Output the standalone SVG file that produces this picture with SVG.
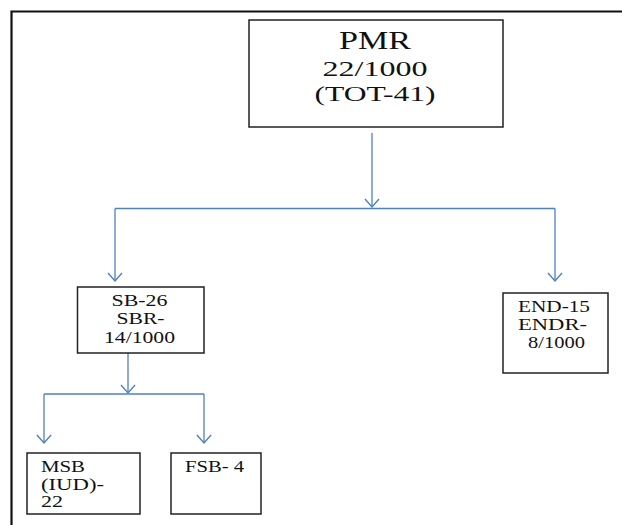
<svg xmlns="http://www.w3.org/2000/svg" width="622" height="525" viewBox="0 0 622 525">
<defs>
<marker id="arr" markerWidth="18" markerHeight="16" refX="15" refY="7" orient="auto" markerUnits="userSpaceOnUse" viewBox="0 0 18 14">
<polyline points="7,0 15,7 7,14" fill="none" stroke="#4f81bd" stroke-width="1.4"/>
</marker>
<style>
.box{fill:#fff;stroke:#222;stroke-width:1.5}
text{font-family:"Liberation Serif","Times New Roman","DejaVu Serif",serif;fill:#111}
.t{text-anchor:middle}
.tl{text-anchor:start}
.c{fill:none;stroke:#4f81bd;stroke-width:1.3}
</style>
</defs>
<rect width="622" height="525" fill="#fff"/>
<path d="M11.5,530 V11.5 H630" fill="none" stroke="#111" stroke-width="2.2"/>
<g id="connectors">
<path class="c" d="M372,133 V207" marker-end="url(#arr)"/>
<path class="c" d="M115,208.5 H555"/>
<path class="c" d="M115,208.5 V281" marker-end="url(#arr)"/>
<path class="c" d="M555,208.5 V281" marker-end="url(#arr)"/>
<path class="c" d="M128,353 V393" marker-end="url(#arr)"/>
<path class="c" d="M44,394 H204"/>
<path class="c" d="M44,394 V443" marker-end="url(#arr)"/>
<path class="c" d="M204,394 V443" marker-end="url(#arr)"/>
</g>
<g id="pmr">
<rect class="box" x="249" y="20" width="254" height="107"/>
<text class="t" x="375" y="49" font-size="26" font-family="Liberation Serif, serif" textLength="72" lengthAdjust="spacingAndGlyphs">PMR</text>
<text class="t" x="375" y="76" font-size="22" font-family="Liberation Serif, serif" textLength="105" lengthAdjust="spacingAndGlyphs">22/1000</text>
<text class="t" x="375" y="101" font-size="22" font-family="Liberation Serif, serif" textLength="121" lengthAdjust="spacingAndGlyphs">(TOT-41)</text>
</g>
<g id="sb">
<rect class="box" x="77.5" y="287" width="126.5" height="66"/>
<text class="t" x="139.5" y="306" font-size="16" font-family="Liberation Serif, serif" textLength="56" lengthAdjust="spacingAndGlyphs">SB-26</text>
<text class="t" x="140.5" y="324" font-size="16" font-family="Liberation Serif, serif" textLength="48" lengthAdjust="spacingAndGlyphs">SBR-</text>
<text class="t" x="139.5" y="343" font-size="16" font-family="Liberation Serif, serif" textLength="71" lengthAdjust="spacingAndGlyphs">14/1000</text>
</g>
<g id="end">
<rect class="box" x="503" y="293" width="105" height="80"/>
<text class="t" x="554" y="312" font-size="16" font-family="Liberation Serif, serif" textLength="72" lengthAdjust="spacingAndGlyphs">END-15</text>
<text class="t" x="552.5" y="330" font-size="16" font-family="Liberation Serif, serif" textLength="69" lengthAdjust="spacingAndGlyphs">ENDR-</text>
<text class="t" x="556.5" y="348" font-size="16" font-family="Liberation Serif, serif" textLength="57" lengthAdjust="spacingAndGlyphs">8/1000</text>
</g>
<g id="msb">
<rect class="box" x="27" y="453" width="113" height="61"/>
<text class="tl" x="41" y="472" font-size="16" font-family="Liberation Serif, serif" textLength="44" lengthAdjust="spacingAndGlyphs">MSB</text>
<text class="tl" x="41" y="490" font-size="16" font-family="Liberation Serif, serif" textLength="63" lengthAdjust="spacingAndGlyphs">(IUD)-</text>
<text class="tl" x="41" y="507" font-size="16" font-family="Liberation Serif, serif" textLength="22" lengthAdjust="spacingAndGlyphs">22</text>
</g>
<g id="fsb">
<rect class="box" x="171" y="453" width="90" height="61"/>
<text class="tl" x="185" y="472" font-size="16" font-family="Liberation Serif, serif" textLength="59" lengthAdjust="spacingAndGlyphs">FSB- 4</text>
</g>
</svg>
